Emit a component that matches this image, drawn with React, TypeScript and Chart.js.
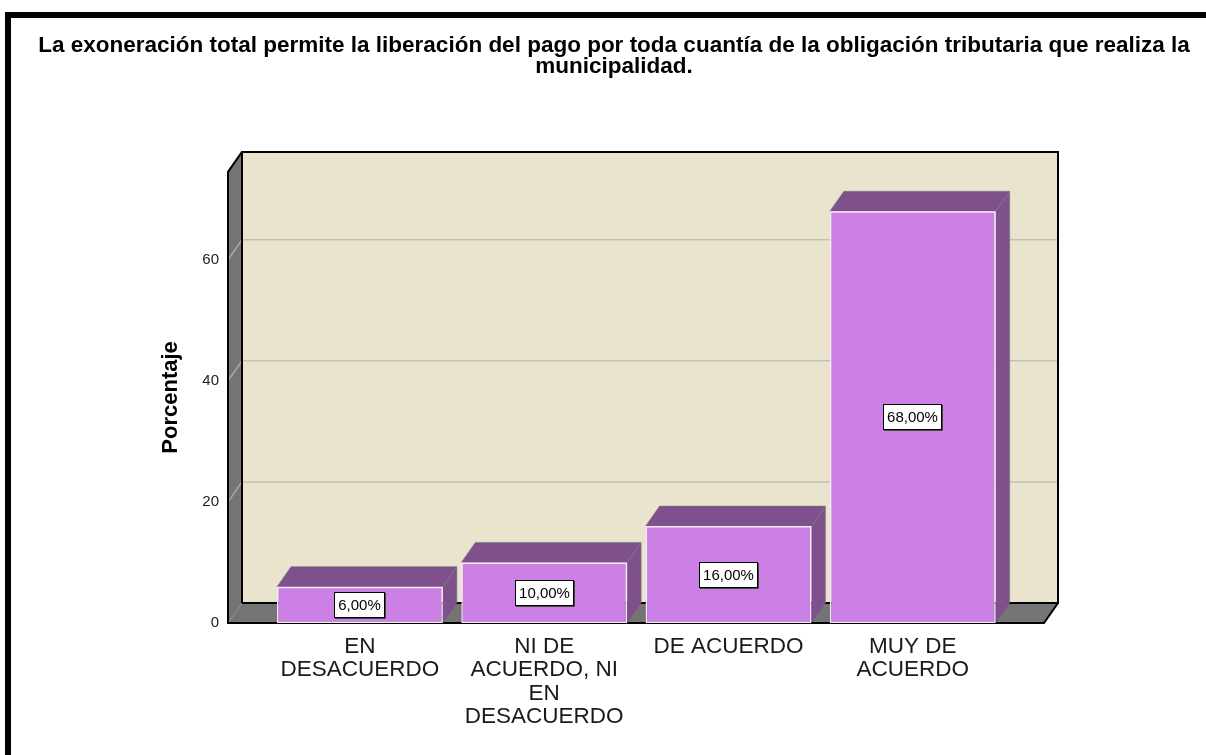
import React, { useEffect, useRef } from "react";
import { Chart, registerables } from "chart.js";

Chart.register(...registerables);

// ---- data ----
const TITLE_LINES: string[] = [
  "La exoneración total permite la liberación del pago por toda cuantía de la obligación tributaria que realiza la",
  "municipalidad.",
];
const Y_TITLE = "Porcentaje";
const CATEGORY_LINES: string[][] = [
  ["EN", "DESACUERDO"],
  ["NI DE", "ACUERDO, NI", "EN", "DESACUERDO"],
  ["DE ACUERDO"],
  ["MUY DE", "ACUERDO"],
];
const PERCENTAGES: number[] = [6, 10, 16, 68];
const Y_TICKS: number[] = [0, 20, 40, 60];
const Y_MAX = 74.5;

// ---- style ----
const FONT = 'Arial, "Liberation Sans", sans-serif';
const WALL = "#EAE4CF";
const GRAY = "#747474";
const BAR = "#CC7FE5";
const BAR_DARK = "#7E508C";
const DX = 14;
const DY = -20;

const fmt = (v: number) => v.toFixed(2).replace(".", ",") + "%";

function poly(ctx: CanvasRenderingContext2D, pts: number[][], fill: string) {
  ctx.beginPath();
  ctx.moveTo(pts[0][0], pts[0][1]);
  for (let i = 1; i < pts.length; i++) ctx.lineTo(pts[i][0], pts[i][1]);
  ctx.closePath();
  ctx.fillStyle = fill;
  ctx.fill();
}

const threeD = {
  id: "threeD",
  beforeDraw(chart: any) {
    const ctx = chart.ctx;
    ctx.save();
    ctx.fillStyle = "#000";
    ctx.fillRect(5, 12, chart.width - 5, 6);
    ctx.fillRect(5, 12, 6, chart.height - 12);
    ctx.restore();
  },
  beforeDatasetsDraw(chart: any) {
    const { ctx, chartArea: a, scales } = chart;
    const ys = scales.y;
    const L = a.left, R = a.right, T = a.top, B = a.bottom;
    ctx.save();
    // back wall
    ctx.fillStyle = WALL;
    ctx.fillRect(L + DX, T + DY, R - L, B - T);
    // left wall & floor
    poly(ctx, [[L, T], [L + DX, T + DY], [L + DX, B + DY], [L, B]], GRAY);
    poly(ctx, [[L, B], [L + DX, B + DY], [R + DX, B + DY], [R, B]], GRAY);
    // grid lines
    ctx.lineWidth = 1.5;
    Y_TICKS.forEach((v) => {
      if (v <= 0) return;
      const py = ys.getPixelForValue(v);
      ctx.strokeStyle = "#A8A8A8";
      ctx.beginPath();
      ctx.moveTo(L, py);
      ctx.lineTo(L + DX, py + DY);
      ctx.stroke();
      ctx.strokeStyle = "#C4C1B8";
      ctx.beginPath();
      ctx.moveTo(L + DX, py + DY);
      ctx.lineTo(R + DX, py + DY);
      ctx.stroke();
    });
    // outlines
    ctx.strokeStyle = "#000";
    ctx.lineWidth = 2;
    ctx.beginPath();
    ctx.moveTo(L + DX, B + DY);
    ctx.lineTo(L + DX, T + DY);
    ctx.lineTo(R + DX, T + DY);
    ctx.lineTo(R + DX, B + DY);
    ctx.lineTo(L + DX, B + DY);
    ctx.stroke();
    ctx.beginPath();
    ctx.moveTo(L + DX, T + DY);
    ctx.lineTo(L, T);
    ctx.lineTo(L, B);
    ctx.lineTo(R, B);
    ctx.lineTo(R + DX, B + DY);
    ctx.stroke();
    // bar depth faces
    const meta = chart.getDatasetMeta(0);
    meta.data.forEach((el: any) => {
      const { x, y, base, width } = el.getProps(["x", "y", "base", "width"], true);
      const x0 = x - width / 2;
      const x1 = x + width / 2;
      poly(ctx, [[x0, y], [x1, y], [x1 + DX, y + DY], [x0 + DX, y + DY]], BAR_DARK);
      poly(ctx, [[x1, y], [x1 + DX, y + DY], [x1 + DX, base + DY], [x1, base]], BAR_DARK);
      ctx.strokeStyle = "rgba(120,120,120,0.6)";
      ctx.lineWidth = 1;
      ctx.beginPath();
      ctx.moveTo(x0, y);
      ctx.lineTo(x0 + DX, y + DY);
      ctx.lineTo(x1 + DX, y + DY);
      ctx.lineTo(x1 + DX, base + DY);
      ctx.moveTo(x1 + DX, y + DY);
      ctx.lineTo(x1, y);
      ctx.stroke();
    });
    ctx.restore();
  },
  afterDatasetsDraw(chart: any) {
    const ctx = chart.ctx;
    const meta = chart.getDatasetMeta(0);
    ctx.save();
    ctx.font = "15px " + FONT;
    ctx.textAlign = "center";
    ctx.textBaseline = "middle";
    meta.data.forEach((el: any, i: number) => {
      const { x, y, base } = el.getProps(["x", "y", "base"], true);
      const text = fmt(PERCENTAGES[i]);
      const cy = (y + base) / 2;
      const w = Math.round(ctx.measureText(text).width + 8);
      const h = 26;
      const bx = Math.round(x - w / 2);
      const by = Math.round(cy - h / 2);
      ctx.fillStyle = "#fff";
      ctx.fillRect(bx, by, w, h);
      ctx.strokeStyle = "#000";
      ctx.lineWidth = 1;
      ctx.strokeRect(bx + 0.5, by + 0.5, w - 1, h - 1);
      ctx.strokeStyle = "#444";
      ctx.beginPath();
      ctx.moveTo(bx + w + 0.5, by + 1);
      ctx.lineTo(bx + w + 0.5, by + h + 0.5);
      ctx.lineTo(bx + 1, by + h + 0.5);
      ctx.stroke();
      ctx.fillStyle = "#000";
      ctx.fillText(text, bx + w / 2, by + h / 2 + 1);
    });
    ctx.restore();
  },
};

export default function App() {
  const ref = useRef<HTMLCanvasElement | null>(null);
  useEffect(() => {
    if (!ref.current) return;
    const chart = new Chart(ref.current, {
      type: "bar",
      data: {
        datasets: [
          {
            data: PERCENTAGES.map((v, i) => ({ x: i, y: v })),
            backgroundColor: BAR,
            borderColor: "#F3E8F6",
            borderWidth: 1.5,
            borderSkipped: false,
            categoryPercentage: 1,
            barPercentage: 0.9,
            xAxisID: "x",
            yAxisID: "y",
          } as any,
        ],
      },
      options: {
        animation: false,
        responsive: false,
        layout: { padding: { left: 28, right: 6, top: 36, bottom: 0 } },
        plugins: {
          legend: { display: false },
          tooltip: { enabled: false },
          title: {
            display: true,
            text: TITLE_LINES,
            color: "#000",
            font: { family: FONT, size: 22.5, weight: "bold", lineHeight: 0.9 },
            padding: { top: 0, bottom: 95.4 },
          },
        },
        scales: {
          x: {
            type: "linear",
            min: -0.716,
            max: 3.712,
            offset: false,
            grid: { display: false, drawTicks: false },
            border: { display: false },
            afterBuildTicks: (s: any) => {
              s.ticks = CATEGORY_LINES.map((_, i) => ({ value: i }));
            },
            afterFit: (s: any) => {
              s.height = 132;
            },
            ticks: {
              autoSkip: false,
              maxRotation: 0,
              minRotation: 0,
              padding: 12,
              color: "#1a1a1a",
              font: { family: FONT, size: 22.5, lineHeight: 1.04 },
              callback: (v: any) => CATEGORY_LINES[Math.round(v)] ?? "",
            },
          },
          y: {
            type: "linear",
            position: "left",
            min: 0,
            max: Y_MAX,
            grid: { display: false, drawTicks: false },
            border: { display: false },
            afterBuildTicks: (s: any) => {
              s.ticks = Y_TICKS.map((v) => ({ value: v }));
            },
            afterFit: (s: any) => {
              s.width = 200;
            },
            ticks: { padding: 9, color: "#222", font: { family: FONT, size: 15 } },
            title: {
              display: true,
              text: Y_TITLE,
              color: "#000",
              font: { family: FONT, size: 22, weight: "bold" },
              padding: { top: 130, bottom: 0 },
            },
          },
          yR: {
            type: "linear",
            position: "right",
            display: true,
            grid: { display: false, drawTicks: false },
            border: { display: false },
            ticks: { display: false },
            afterFit: (s: any) => {
              s.width = 156;
            },
          },
        },
      } as any,
      plugins: [threeD],
    });
    return () => chart.destroy();
  }, []);
  return (
    <div style={{ position: "absolute", left: 0, top: 0, width: 1206, height: 755 }}>
      <canvas ref={ref} width={1206} height={755} style={{ display: "block" }} />
    </div>
  );
}
